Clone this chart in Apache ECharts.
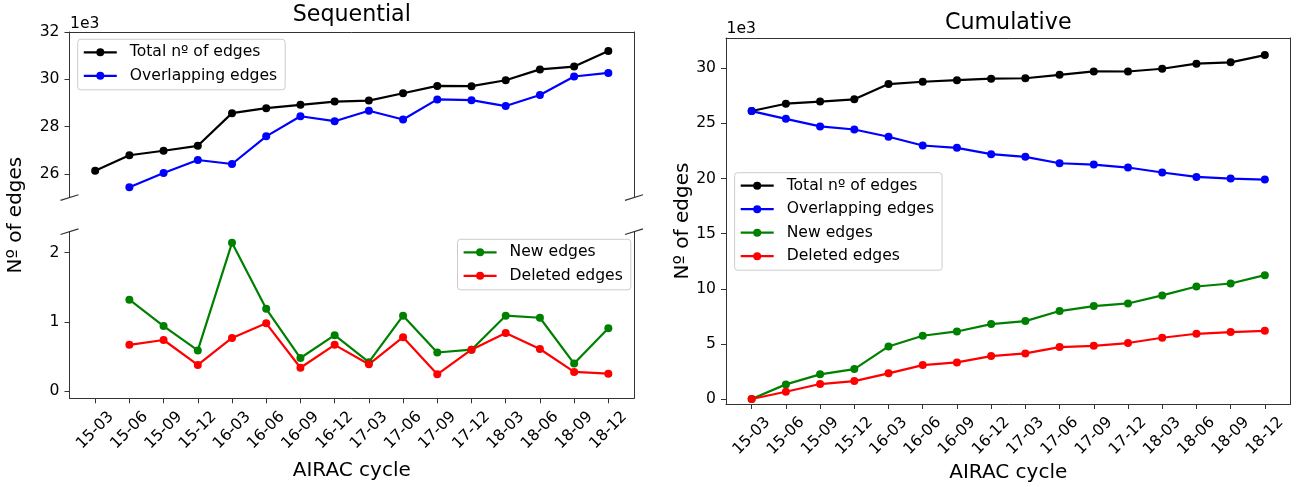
<!DOCTYPE html>
<html>
<head>
<meta charset="utf-8">
<title>AIRAC edges</title>
<script src="https://cdn.jsdelivr.net/npm/echarts@6/dist/echarts.min.js"></script>
<style>
  html, body { margin: 0; padding: 0; background: #ffffff; }
  #chart { width: 1299px; height: 487px; }
</style>
</head>
<body>
<div id="chart"></div>
<script>
// AIRAC cycles (x axis)
const categories = ['15-03', '15-06', '15-09', '15-12', '16-03', '16-06', '16-09', '16-12',
                    '17-03', '17-06', '17-09', '17-12', '18-03', '18-06', '18-09', '18-12'];

// Values in thousands of edges
const totalEdges   = [26.13, 26.79, 26.98, 27.19, 28.57, 28.78, 28.92, 29.06, 29.10, 29.41, 29.72, 29.71, 29.96, 30.42, 30.54, 31.20];
const seqOverlap   = [null, 25.44, 26.04, 26.59, 26.42, 27.59, 28.44, 28.23, 28.67, 28.30, 29.15, 29.12, 28.87, 29.34, 30.12, 30.27];
const seqNew       = [null, 1.32, 0.94, 0.59, 2.14, 1.19, 0.48, 0.81, 0.42, 1.09, 0.56, 0.60, 1.09, 1.06, 0.40, 0.91];
const seqDeleted   = [null, 0.67, 0.74, 0.38, 0.77, 0.98, 0.34, 0.67, 0.39, 0.78, 0.245, 0.60, 0.84, 0.61, 0.28, 0.255];
const cumOverlap   = [26.12, 25.42, 24.73, 24.45, 23.79, 23.00, 22.79, 22.21, 21.97, 21.39, 21.27, 21.00, 20.55, 20.15, 20.00, 19.91];
const cumNew       = [0, 1.33, 2.24, 2.72, 4.77, 5.74, 6.13, 6.80, 7.07, 7.98, 8.43, 8.67, 9.40, 10.21, 10.48, 11.24];
const cumDeleted   = [0, 0.66, 1.36, 1.63, 2.33, 3.08, 3.32, 3.90, 4.14, 4.71, 4.83, 5.08, 5.56, 5.92, 6.07, 6.19];

// Tick labels
const yTicksSeqUpper = [26, 28, 30, 32];
const yTicksSeqLower = [0, 1, 2];
const yTicksCum      = [0, 5, 10, 15, 20, 25, 30];
const unitLabel = '1e3';

// Series names
const NAME_TOTAL = 'Total nº of edges';
const NAME_OVERLAP = 'Overlapping edges';
const NAME_NEW = 'New edges';
const NAME_DELETED = 'Deleted edges';

// ---- styling / layout ----
const FONT = 'DejaVu Sans';
const SPINE = '#333333';
const TICK_FS = 15.6;
const LEGEND_FS = 15.6;
const COLORS = { total: '#000000', overlap: '#0000ff', added: '#008000', deleted: '#ff0000' };

const G = {
  upper: { left: 69.5, top: 32,    width: 564.5, height: 165.6 },
  lower: { left: 69.5, top: 231.7, width: 564.5, height: 166.6 },
  cum:   { left: 726,  top: 38,    width: 564.5, height: 366 }
};
const X_MIN = -0.75;
const X_MAX = categories.length - 0.25;
const xTickIdx = categories.map((_, i) => i);

function gridOf(g) {
  return { left: g.left, top: g.top, width: g.width, height: g.height, outerBoundsMode: 'none', containLabel: false };
}

function xAxisFor(gridIndex, position, showLine, showLabels) {
  return {
    type: 'value', gridIndex, position, min: X_MIN, max: X_MAX,
    splitLine: { show: false },
    axisLine: { show: showLine, onZero: false, lineStyle: { color: SPINE, width: 1 } },
    axisTick: { show: showLabels, customValues: xTickIdx, length: 5, inside: false, lineStyle: { color: SPINE, width: 1 } },
    axisLabel: {
      show: showLabels, customValues: xTickIdx,
      formatter: v => categories[Math.round(v)] || '',
      rotate: 45, align: 'center', verticalAlign: 'middle', margin: 32,
      fontSize: TICK_FS, fontFamily: FONT, color: '#000000'
    }
  };
}

function yAxisFor(gridIndex, position, min, max, ticks) {
  const labelled = ticks != null;
  return {
    type: 'value', gridIndex, position, min, max,
    splitLine: { show: false },
    axisLine: { show: true, onZero: false, lineStyle: { color: SPINE, width: 1 } },
    axisTick: { show: labelled, customValues: ticks || [], length: 5, inside: false, lineStyle: { color: SPINE, width: 1 } },
    axisLabel: {
      show: labelled, customValues: ticks || [], margin: 10,
      fontSize: TICK_FS, fontFamily: FONT, color: '#000000'
    }
  };
}

function lineSeries(name, values, color, xAxisIndex, yAxisIndex) {
  return {
    type: 'line', name, xAxisIndex, yAxisIndex,
    data: values.map((v, i) => [i, v == null ? '-' : v]),
    symbol: 'circle', symbolSize: 8, showSymbol: true,
    lineStyle: { color, width: 2.2 },
    itemStyle: { color, borderWidth: 0 },
    emphasis: { disabled: true },
    animation: false
  };
}

function legendAt(left, top, names) {
  return {
    data: names, orient: 'vertical', left, top,
    itemWidth: 33, itemHeight: 10, itemGap: 5.5,
    padding: [4, 8, 5, 5],
    backgroundColor: '#ffffff', borderColor: '#cccccc', borderWidth: 1, borderRadius: 3,
    selectedMode: false,
    lineStyle: { width: 2.2 },
    itemStyle: { borderWidth: 0 },
    textStyle: { fontSize: LEGEND_FS, fontFamily: FONT, color: '#000000', lineHeight: 18, padding: [0, 0, 0, 8] }
  };
}

function text(x, y, str, fontSize, extra) {
  return Object.assign({
    type: 'text', x, y, silent: true,
    style: { text: str, fontSize, fontFamily: FONT, fill: '#000000', align: 'center', verticalAlign: 'middle' }
  }, extra || {});
}

// diagonal break marks where the upper and lower panels are split
function breakMarks() {
  const out = [];
  const dx = 9, dy = 2.8;
  const ys = [G.upper.top + G.upper.height, G.lower.top];
  const xs = [G.upper.left, G.upper.left + G.upper.width];
  ys.forEach(y => xs.forEach(x => {
    out.push({ type: 'line', silent: true, shape: { x1: x - dx, y1: y + dy, x2: x + dx, y2: y - dy },
               style: { stroke: SPINE, lineWidth: 1.2 } });
  }));
  return out;
}

const leftCx = G.upper.left + G.upper.width / 2;
const rightCx = G.cum.left + G.cum.width / 2;

const option = {
  backgroundColor: '#ffffff',
  animation: false,
  grid: [gridOf(G.upper), gridOf(G.lower), gridOf(G.cum)],
  xAxis: [
    xAxisFor(0, 'bottom', false, false),
    xAxisFor(0, 'top', true, false),
    xAxisFor(1, 'bottom', true, true),
    xAxisFor(2, 'bottom', true, true),
    xAxisFor(2, 'top', true, false)
  ],
  yAxis: [
    yAxisFor(0, 'left', 25, 32, yTicksSeqUpper),
    yAxisFor(0, 'right', 25, 32, null),
    yAxisFor(1, 'left', -0.1, 2.3, yTicksSeqLower),
    yAxisFor(1, 'right', -0.1, 2.3, null),
    yAxisFor(2, 'left', -0.45, 32.75, yTicksCum),
    yAxisFor(2, 'right', -0.45, 32.75, null)
  ],
  legend: [
    legendAt(77.7, 39.3, [NAME_TOTAL, NAME_OVERLAP]),
    legendAt(457.5, 239.3, [NAME_NEW, NAME_DELETED]),
    legendAt(734.6, 172.7, [NAME_TOTAL, NAME_OVERLAP, NAME_NEW, NAME_DELETED])
  ],
  series: [
    lineSeries(NAME_TOTAL, totalEdges, COLORS.total, 0, 0),
    lineSeries(NAME_OVERLAP, seqOverlap, COLORS.overlap, 0, 0),
    lineSeries(NAME_NEW, seqNew, COLORS.added, 2, 2),
    lineSeries(NAME_DELETED, seqDeleted, COLORS.deleted, 2, 2),
    lineSeries(NAME_TOTAL, totalEdges, COLORS.total, 3, 4),
    lineSeries(NAME_OVERLAP, cumOverlap, COLORS.overlap, 3, 4),
    lineSeries(NAME_NEW, cumNew, COLORS.added, 3, 4),
    lineSeries(NAME_DELETED, cumDeleted, COLORS.deleted, 3, 4)
  ],
  graphic: [
    text(leftCx, 15, 'Sequential', 22.2),
    text(rightCx, 23.5, 'Cumulative', 22.2),
    text(G.upper.left + 0.5, G.upper.top - 8, unitLabel, TICK_FS, {}),
    text(G.cum.left + 0.5, G.cum.top - 9, unitLabel, TICK_FS, {}),
    text(16, (G.upper.top + G.lower.top + G.lower.height) / 2, 'Nº of edges', 20, { rotation: Math.PI / 2 }),
    text(683, G.cum.top + G.cum.height / 2, 'Nº of edges', 20, { rotation: Math.PI / 2 }),
    text(leftCx, 470.6, 'AIRAC cycle', 20),
    text(rightCx, 472.6, 'AIRAC cycle', 20)
  ].concat(breakMarks())
};

// left-align the "1e3" offset labels at the spine
option.graphic[2].style.align = 'left';
option.graphic[3].style.align = 'left';

const chart = echarts.init(document.getElementById('chart'), null, { renderer: 'canvas' });
chart.setOption(option);
</script>
</body>
</html>
